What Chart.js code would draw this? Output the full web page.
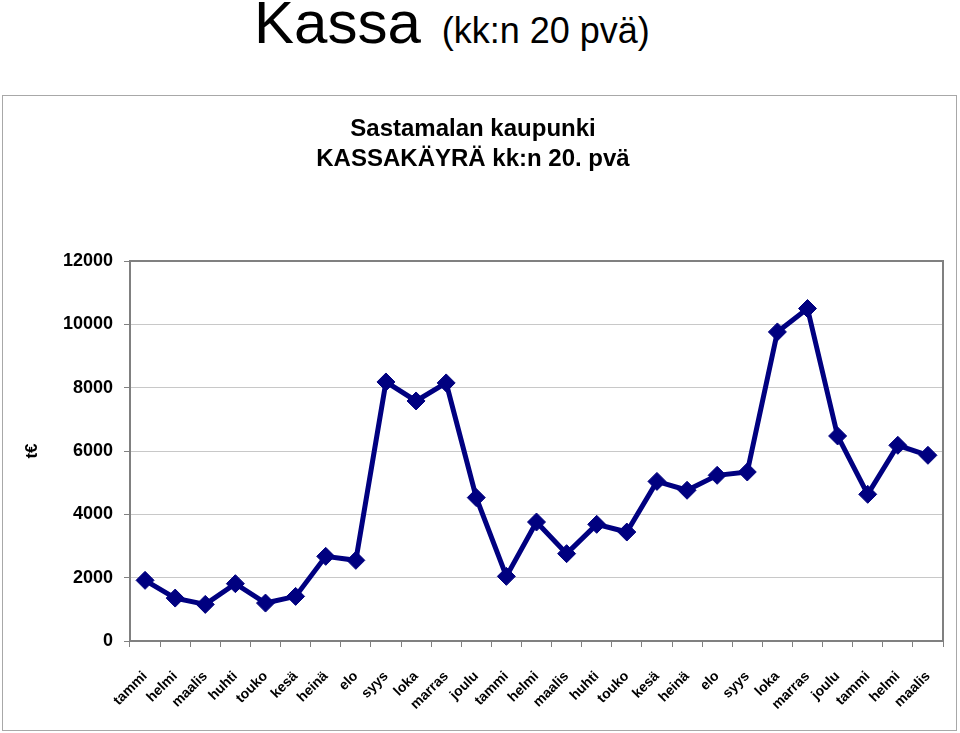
<!DOCTYPE html>
<html lang="fi">
<head>
<meta charset="utf-8">
<title>Kassa (kk:n 20 pvä)</title>
<script src="https://cdn.jsdelivr.net/npm/chart.js@4/dist/chart.umd.min.js"></script>
<style>
    body {
        margin: 0;
        background: #ffffff;
        font-family: "Liberation Sans", Arial, sans-serif;
    }
    #otsikko {
        position: absolute;
        left: 254px;
        top: -7px;
        margin: 0;
        font-weight: normal;
        font-size: 60px;
        line-height: 1;
        white-space: nowrap;
        color: #000;
    }
    #otsikko span {
        font-size: 36px;
        margin-left: 21px;
    }
    #kehys {
        position: absolute;
        left: 2px;
        top: 95px;
        width: 955px;
        height: 636px;
        border: 1px solid #a8a8a8;
        box-sizing: border-box;
    }
    #kassaChart {
        display: block;
    }
</style>
</head>
<body>

<h1 id="otsikko">Kassa<span>(kk:n 20 pvä)</span></h1>

<div id="kehys">
    <canvas id="kassaChart" width="953" height="634"></canvas>
</div>

<script>
// ============================
// Data
// ============================
const kuukaudet = [
    "tammi", "helmi", "maalis", "huhti", "touko", "kesä",
    "heinä", "elo", "syys", "loka", "marras", "joulu",
    "tammi", "helmi", "maalis", "huhti", "touko", "kesä",
    "heinä", "elo", "syys", "loka", "marras", "joulu",
    "tammi", "helmi", "maalis"
];

// kassa kk:n 20. päivänä, t€
const kassa = [
    1915, 1355, 1156, 1810, 1198, 1409,
    2673, 2547, 8180, 7580, 8150, 4528,
    2041, 3757, 2758, 3684, 3441, 5040,
    4760, 5232, 5337, 9760, 10500, 6474,
    4632, 6180, 5864
];

const yTicks = [0, 2000, 4000, 6000, 8000, 10000, 12000];

const kaavionOtsikko = ["Sastamalan kaupunki", "KASSAKÄYRÄ kk:n 20. pvä"];
const yOtsikko = "t€";

// ============================
// Plot area frame (Excel style)
// ============================
const kehysPlugin = {
    id: "kehysPlugin",
    afterDraw(chart) {
        const { ctx, chartArea } = chart;
        ctx.save();
        ctx.strokeStyle = "#808080";
        ctx.lineWidth = 2;
        ctx.strokeRect(chartArea.left, chartArea.top,
            chartArea.right - chartArea.left, chartArea.bottom - chartArea.top);
        ctx.restore();
    }
};

// ============================
// Chart.js
// ============================
let chart;

function initChart() {
    Chart.defaults.font.family = '"Liberation Sans", Arial, sans-serif';
    Chart.defaults.color = "#000";

    const ctx = document.getElementById("kassaChart");

    chart = new Chart(ctx, {
        type: "line",
        data: {
            labels: kuukaudet,
            datasets: [{
                label: "Kassa",
                data: kassa,
                borderColor: "#000080",
                borderWidth: 5,
                tension: 0,
                pointStyle: "rectRot",
                pointRadius: 9,
                pointBackgroundColor: "#000080",
                pointBorderColor: "#000080",
                pointBorderWidth: 1
            }]
        },
        options: {
            responsive: false,
            animation: false,
            layout: { padding: { left: 0, right: 13, top: 0, bottom: 0 } },
            plugins: {
                legend: { display: false },
                tooltip: { enabled: false },
                title: {
                    display: true,
                    text: kaavionOtsikko,
                    font: { size: 24, weight: "bold", lineHeight: 1.25 },
                    color: "#000",
                    padding: { top: 18, bottom: 87 }
                }
            },
            scales: {
                x: {
                    type: "category",
                    offset: true,
                    afterFit: s => {
                        s.height = 89;
                        s.paddingLeft = 0;
                        s.paddingRight = 0;
                    },
                    grid: {
                        display: true,
                        drawOnChartArea: false,
                        offset: true,
                        tickLength: 6,
                        tickColor: "#808080"
                    },
                    border: { color: "#808080", width: 2 },
                    ticks: {
                        autoSkip: false,
                        maxRotation: 45,
                        minRotation: 45,
                        padding: 21,
                        font: { size: 14, weight: "bold" }
                    }
                },
                y: {
                    min: 0,
                    max: 12000,
                    afterFit: s => { s.width = 127; },
                    afterBuildTicks: s => { s.ticks = yTicks.map(v => ({ value: v })); },
                    grid: {
                        color: "#c8c8c8",
                        tickLength: 6,
                        tickColor: "#808080"
                    },
                    border: { color: "#808080", width: 2 },
                    ticks: {
                        padding: 11,
                        font: { size: 18, weight: "bold" },
                        callback: v => String(v)
                    },
                    title: {
                        display: true,
                        text: yOtsikko,
                        font: { size: 17, weight: "bold", lineHeight: 1.2 },
                        padding: { top: 19, bottom: 0 }
                    }
                }
            }
        },
        plugins: [kehysPlugin]
    });
}

// ============================
// Init
// ============================
initChart();
</script>
</body>
</html>
